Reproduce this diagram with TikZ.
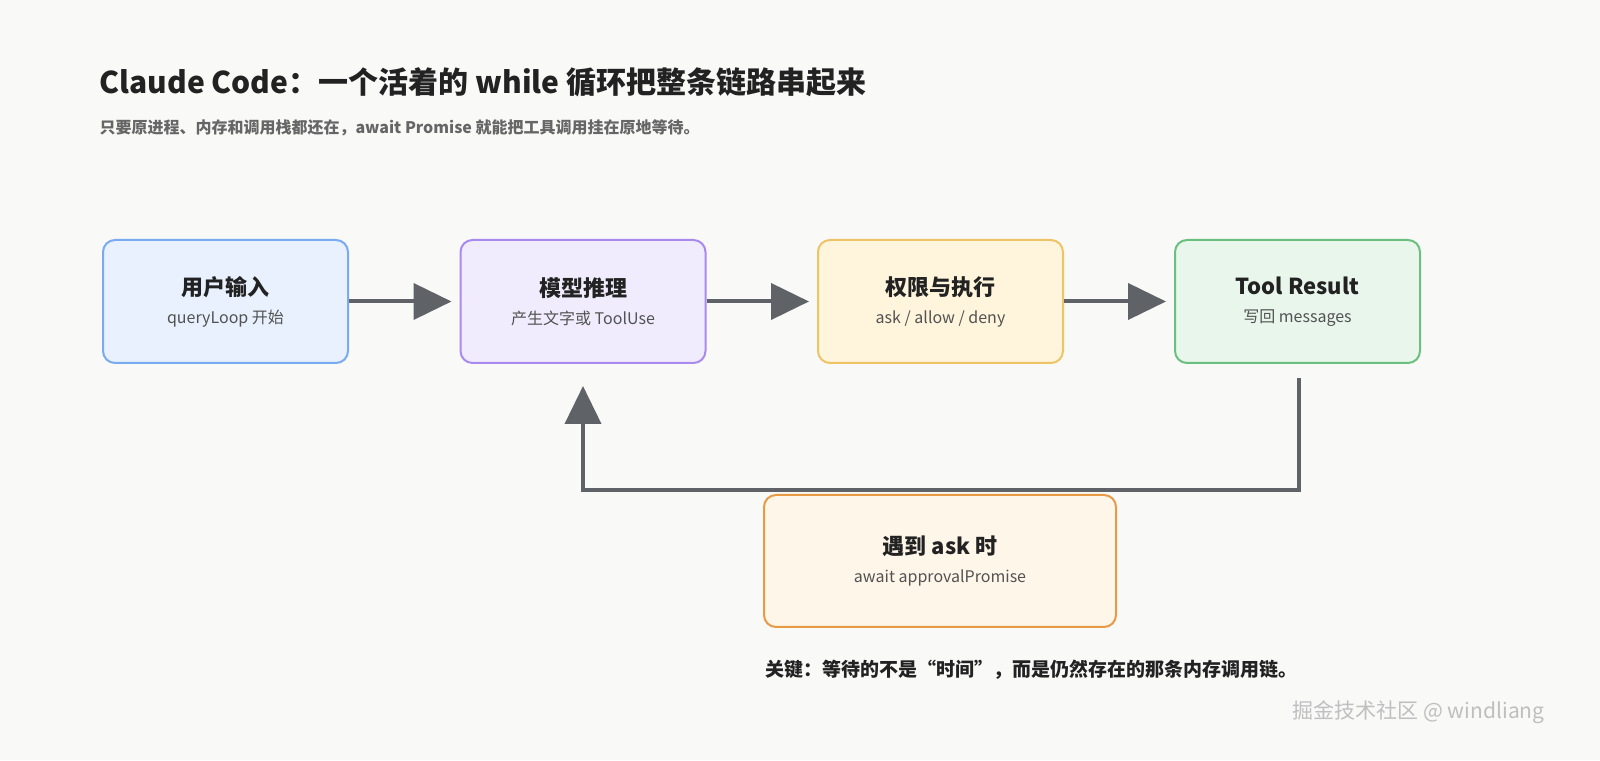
\documentclass[tikz,border=0pt]{standalone}
\usepackage{fontspec}
\setmainfont{Noto Sans CJK SC}
\usetikzlibrary{arrows.meta,positioning,calc}
\definecolor{bgc}{HTML}{F9F9F8}
\definecolor{ink}{HTML}{222222}
\definecolor{sub}{HTML}{666666}
\definecolor{wire}{HTML}{5F6368}
\definecolor{blueF}{HTML}{E8F1FD}\definecolor{blueD}{HTML}{7AAAF0}
\definecolor{purpF}{HTML}{F0ECFD}\definecolor{purpD}{HTML}{A98BEF}
\definecolor{yellF}{HTML}{FFF4DC}\definecolor{yellD}{HTML}{EEC466}
\definecolor{grenF}{HTML}{E8F6EC}\definecolor{grenD}{HTML}{6CC07F}
\definecolor{orngF}{HTML}{FFF6EA}\definecolor{orngD}{HTML}{E89A45}
\newcommand{\stage}[2]{{\fontsize{22}{26}\selectfont\bfseries #1}\\[8pt]{\fontsize{16}{20}\selectfont\color{sub!80!black} #2}}
\begin{document}
\begin{tikzpicture}[
        x=1pt, y=1pt,
        font=\fontsize{16}{20}\selectfont,
        box/.style={draw, rounded corners=12pt, line width=2pt, minimum width=245pt, minimum height=123pt, align=center, text=ink},
        line/.style={-{Triangle[length=38pt,width=36pt]}, line width=4pt, draw=wire},
    ]
        \fill[bgc] (0,0) rectangle (1600,760);
        \useasboundingbox (0,0) rectangle (1600,760);

        % --- header ---
        \node[anchor=west, text=ink, font=\fontsize{30}{34}\selectfont\bfseries] (title) at (96,678) {Claude Code：一个活着的 while 循环把整条链路串起来};
        \node[anchor=west, text=sub, font=\fontsize{16}{19}\selectfont\bfseries] (subt) at (96,632) {只要原进程、内存和调用栈都还在，await Promise 就能把工具调用挂在原地等待。};

        % --- main chain ---
        \node[box, fill=blueF, draw=blueD] (input) at (225.5,458.5) {\stage{用户输入}{queryLoop 开始}};
        \node[box, fill=purpF, draw=purpD] (model) at (583,458.5) {\stage{模型推理}{产生文字或 ToolUse}};
        \node[box, fill=yellF, draw=yellD] (perm) at (940.5,458.5) {\stage{权限与执行}{ask / allow / deny}};
        \node[box, fill=grenF, draw=grenD] (result) at (1297.5,458.5) {\stage{Tool Result}{写回 messages}};
        \node[box, fill=orngF, draw=orngD, minimum width=352pt, minimum height=132pt] (ask) at (940,199) {\stage{遇到 ask 时}{await approvalPromise}};

        \draw[line] (input.east) -- ([xshift=-8pt]model.west);
        \draw[line] (model.east) -- ([xshift=-8pt]perm.west);
        \draw[line] (perm.east) -- ([xshift=-8pt]result.west);

        % loop back
        \coordinate (back) at (1299,270);
        \draw[line] (1299,382) -- (back) -| ([yshift=-22pt]model.south);

        % --- notes ---
        \node[anchor=west, text=ink, font=\fontsize{19}{22}\selectfont\bfseries] (note) at (762,90) {关键：等待的不是“时间”，而是仍然存在的那条内存调用链。};
        \node[anchor=east, text=black!25, font=\fontsize{21}{24}\selectfont] (mark) at (1548,48) {掘金技术社区 @ windliang};
\end{tikzpicture}
\end{document}
